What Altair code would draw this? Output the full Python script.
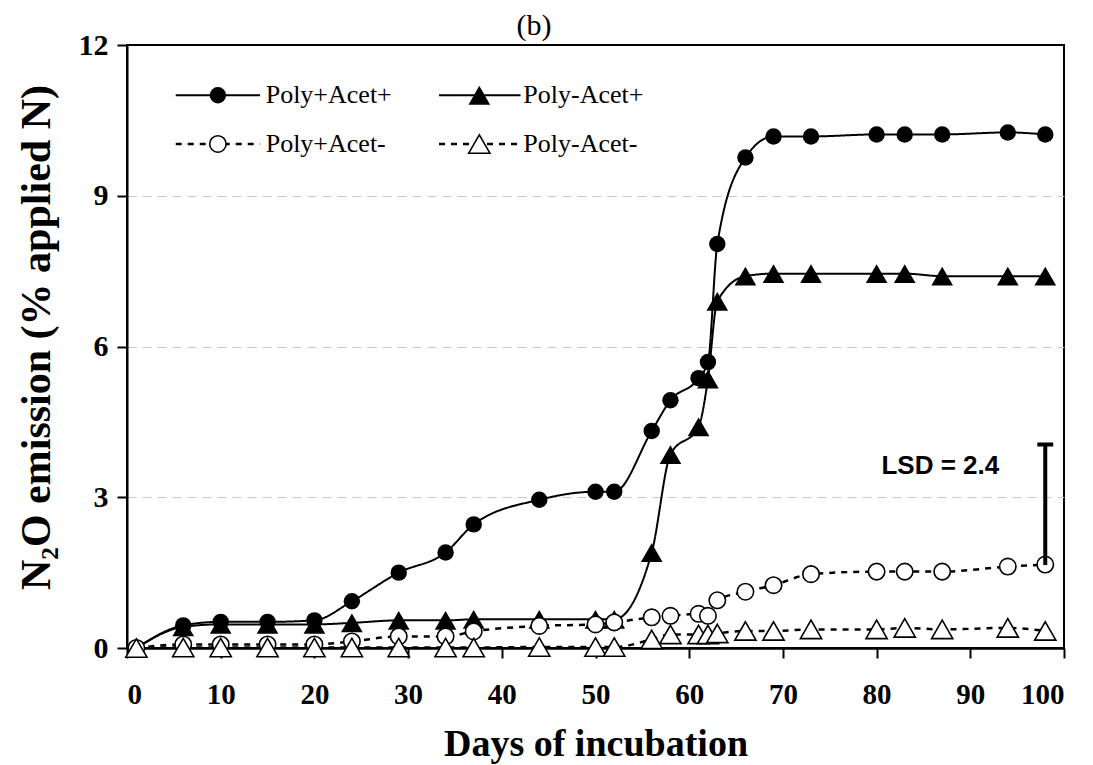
import altair as alt
import pandas as pd

# ---- data ----
days = [1, 6, 10, 15, 20, 24, 29, 34, 37, 44, 50, 52, 56, 58, 61, 62, 63, 66, 69, 73, 80, 83, 87, 94, 98]
poly_p_acet_p = [0, 0.45, 0.52, 0.52, 0.55, 0.93, 1.5, 1.9, 2.46, 2.95, 3.11, 3.11, 4.32, 4.93, 5.37, 5.69,
                 8.04, 9.76, 10.18, 10.18, 10.22, 10.22, 10.22, 10.26, 10.22]
poly_m_acet_p = [0, 0.42, 0.47, 0.47, 0.47, 0.5, 0.55, 0.55, 0.57, 0.57, 0.57, 0.57, 1.9, 3.85, 4.4, 5.35,
                 6.9, 7.4, 7.45, 7.45, 7.45, 7.45, 7.4, 7.4, 7.4]
poly_p_acet_m = [0, 0.07, 0.07, 0.07, 0.07, 0.13, 0.23, 0.23, 0.33, 0.44, 0.47, 0.51, 0.61, 0.64, 0.68, 0.64,
                 0.95, 1.12, 1.25, 1.47, 1.52, 1.52, 1.52, 1.62, 1.66]
poly_m_acet_m = [0, 0.01, 0.01, 0.01, 0.01, 0.01, 0.01, 0.01, 0.01, 0.02, 0.02, 0.02, 0.17, 0.27, 0.27, 0.27,
                 0.29, 0.34, 0.34, 0.37, 0.37, 0.4, 0.37, 0.4, 0.34]
series_names = ["Poly+Acet+", "Poly-Acet+", "Poly+Acet-", "Poly-Acet-"]
x_ticks = [0, 10, 20, 30, 40, 50, 60, 70, 80, 90, 100]
y_ticks = [0, 3, 6, 9, 12]
lsd_day = 98
lsd_low = 1.65
lsd_high = 4.05
lsd_label = "LSD = 2.4"
panel_label = "(b)"

SERIF = "Liberation Serif"
SANS = "Liberation Sans"

def frame(vals, name):
    return pd.DataFrame({"day": days, "value": vals, "series": name})

styles = {
    "Poly+Acet+": dict(shape="circle", filled=True, dash=[1, 0], size=270),
    "Poly-Acet+": dict(shape="triangle-up", filled=True, dash=[1, 0], size=470),
    "Poly+Acet-": dict(shape="circle", filled=False, dash=[6, 6], size=270),
    "Poly-Acet-": dict(shape="triangle-up", filled=False, dash=[6, 6], size=450),
}
series_vals = [poly_p_acet_p, poly_m_acet_p, poly_p_acet_m, poly_m_acet_m]

xscale = alt.Scale(domain=[0, 100], nice=False, zero=False)
yscale = alt.Scale(domain=[0, 12], nice=False)

xaxis = alt.Axis(values=x_ticks, title="Days of incubation", grid=False,
                 labelFont=SERIF, labelFontWeight="bold", labelFontSize=29, labelColor="black",
                 labelPadding=22, tickSize=10, tickColor="black", tickWidth=2,
                 domainColor="black", domainWidth=2.5,
                 titleFont=SERIF, titleFontWeight="bold", titleFontSize=38, titleColor="black",
                 titleY=107, titleBaseline="alphabetic")
yaxis = alt.Axis(values=y_ticks, title="N₂O emission (% applied N)", grid=True,
                 gridColor="#c8c8c8", gridDash=[9, 6], gridWidth=1,
                 gridOpacity={"condition": {"test": "datum.value == 0 || datum.value == 12", "value": 0},
                              "value": 1},
                 labelFont=SERIF, labelFontWeight="bold", labelFontSize=30, labelColor="black",
                 labelPadding=9, tickSize=10, tickColor="black", tickWidth=2,
                 domainColor="black", domainWidth=2,
                 titleFont=SERIF, titleFontWeight="bold", titleFontSize=42, titleColor="black",
                 titleX=-78, titleY=292, titleAngle=-90, titleBaseline="alphabetic", titleAlign="center")

def X(field):
    return alt.X(field, scale=xscale, axis=xaxis)

def Y(field):
    return alt.Y(field, scale=yscale, axis=yaxis)

layers = []
for name, vals in zip(series_names, series_vals):
    st = styles[name]
    df = frame(vals, name)
    layers.append(alt.Chart(df).mark_line(color="black", strokeWidth=2 if st["filled"] else 2.5,
                                          strokeDash=st["dash"], interpolate="monotone").encode(
        x=X("day:Q"), y=Y("value:Q")))
for name, vals in zip(series_names, series_vals):
    st = styles[name]
    df = frame(vals, name)
    layers.append(alt.Chart(df).mark_point(shape=st["shape"], filled=True, size=st["size"],
                                           fill="black" if st["filled"] else "white",
                                           stroke="black", strokeWidth=0 if st["filled"] else 1.6,
                                           opacity=1).encode(x=X("day:Q"), y=Y("value:Q")))

# ---- LSD bar ----
lsd_df = pd.DataFrame({"day": [lsd_day], "lo": [lsd_low], "hi": [lsd_high]})
layers.append(alt.Chart(lsd_df).mark_rule(color="black", strokeWidth=4).encode(
    x=X("day:Q"), y=Y("lo:Q"), y2="hi:Q"))
layers.append(alt.Chart(pd.DataFrame({"a": [lsd_day - 0.85], "b": [lsd_day + 0.85], "hi": [lsd_high]})).mark_rule(
    color="black", strokeWidth=4).encode(x=X("a:Q"), x2="b:Q", y=Y("hi:Q")))
layers.append(alt.Chart(pd.DataFrame({"d": [86.8], "v": [3.62], "t": [lsd_label]})).mark_text(
    font=SANS, fontWeight="bold", fontSize=26, color="black", align="center", baseline="middle").encode(
    x=X("d:Q"), y=Y("v:Q"), text="t:N"))

# ---- legend (inside plot, two rows x two columns) ----
leg_rows = {"Poly+Acet+": (11.0, 0), "Poly-Acet+": (11.0, 1), "Poly+Acet-": (10.03, 0), "Poly-Acet-": (10.03, 1)}
col_x = [(5.2, 14.2, 9.7, 14.8), (33.3, 42.0, 37.6, 42.3)]
for name in series_names:
    st = styles[name]
    yv, c = leg_rows[name]
    x0, x1, xm, xt = col_x[c]
    ldf = pd.DataFrame({"x0": [x0], "x1": [x1], "xm": [xm], "xt": [xt], "y": [yv], "t": [name]})
    base = alt.Chart(ldf)
    layers.append(base.mark_rule(color="black", strokeWidth=2 if st["filled"] else 2.5,
                                 strokeDash=st["dash"]).encode(x=X("x0:Q"), x2="x1:Q", y=Y("y:Q")))
    layers.append(base.mark_point(shape=st["shape"], filled=True, size=st["size"],
                                  fill="black" if st["filled"] else "white", stroke="black",
                                  strokeWidth=0 if st["filled"] else 1.6, opacity=1).encode(
        x=X("xm:Q"), y=Y("y:Q")))
    layers.append(base.mark_text(font=SERIF, fontSize=26, color="black", align="left", baseline="middle").encode(
        x=X("xt:Q"), y=Y("y:Q"), text="t:N"))

# ---- panel label above the plot ----
layers.append(alt.Chart(pd.DataFrame({"t": [panel_label]})).mark_text(
    font=SERIF, fontSize=30, color="black", align="center", baseline="alphabetic").encode(
    x=alt.value(407), y=alt.value(-10), text="t:N"))

chart = alt.layer(*layers).properties(
    width=937, height=603,
    autosize=alt.AutoSizeParams(type="none"),
    padding={"left": 127, "top": 45, "right": 29, "bottom": 117},
).configure(background="white").configure_view(stroke="black", strokeWidth=2)

chart.save("out.html", embed_options={"renderer": "svg", "actions": False})
